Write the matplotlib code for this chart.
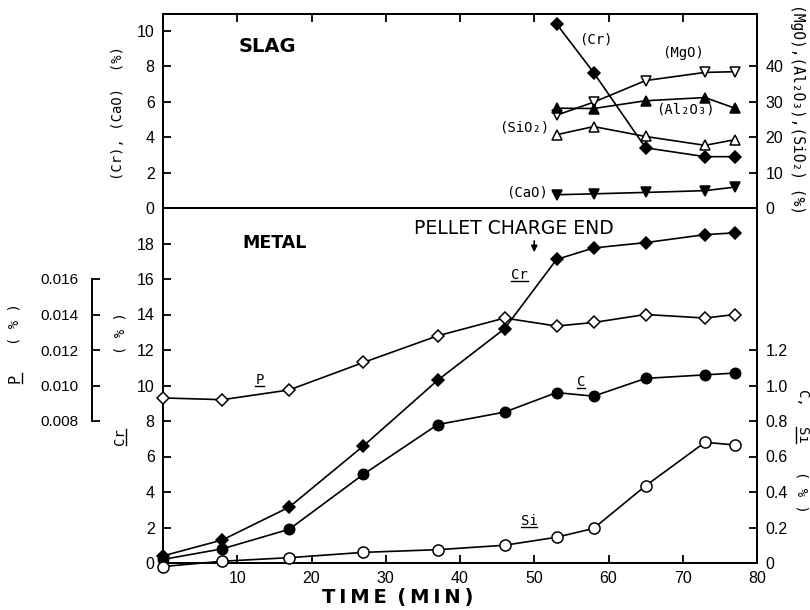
import matplotlib
matplotlib.use('Agg')
import matplotlib.pyplot as plt
from matplotlib.lines import Line2D

# metal samples, time in min
time_metal = [0, 8, 17, 27, 37, 46, 53, 58, 65, 73, 77]
metal_cr = [0.4, 1.3, 3.15, 6.6, 10.3, 13.2, 17.1, 17.75, 18.05, 18.5, 18.6]
metal_p = [0.0093, 0.0092, 0.00975, 0.0113, 0.0128, 0.0138, 0.01335, 0.01355, 0.0140, 0.0138, 0.0140]
metal_c = [0.02, 0.08, 0.19, 0.50, 0.78, 0.85, 0.96, 0.94, 1.04, 1.06, 1.07]
metal_si = [-0.02, 0.01, 0.03, 0.06, 0.075, 0.10, 0.145, 0.195, 0.435, 0.68, 0.665]

# slag samples
time_slag = [53, 58, 65, 73, 77]
slag_cr = [10.4, 7.65, 3.4, 2.9, 2.9]
slag_cao = [0.75, 0.8, 0.88, 0.98, 1.18]
slag_mgo = [26.2, 29.9, 36.0, 38.3, 38.5]
slag_al2o3 = [28.2, 28.1, 30.3, 31.2, 28.2]
slag_sio2 = [20.7, 23.0, 20.2, 17.7, 19.3]

# tick values
x_ticks = [10, 20, 30, 40, 50, 60, 70, 80]
slag_left_ticks = [0, 2, 4, 6, 8, 10]
slag_right_ticks = [0, 10, 20, 30, 40]
metal_cr_ticks = [0, 2, 4, 6, 8, 10, 12, 14, 16, 18]
metal_csi_ticks = [0, 0.2, 0.4, 0.6, 0.8, 1.0, 1.2]
metal_csi_labels = ['0', '0.2', '0.4', '0.6', '0.8', '1.0', '1.2']
p_ticks = [0.008, 0.010, 0.012, 0.014, 0.016]

W, H = 810, 610
TICK_FAMILY = 'Liberation Sans'
MONO = 'DejaVu Sans Mono'

fig = plt.figure(figsize=(W / 100, H / 100), dpi=100)


def fpos(x, y):
    """pixel position -> figure fraction"""
    return x / W, 1 - y / H


ax_slag = fig.add_axes([163 / W, 1 - 208 / H, 594 / W, 194 / H])
ax_metal = fig.add_axes([163 / W, 1 - 563 / H, 594 / W, 355 / H])
for ax in (ax_slag, ax_metal):
    ax.set_xlim(0, 80)
ax_slag.set_ylim(0, 10.96)
ax_metal.set_ylim(0, 20.0)

ax_slag_r = ax_slag.twinx()
ax_slag_r.set_ylim(0, 10.96 * 5)
ax_metal_r = ax_metal.twinx()
ax_metal_r.set_ylim(0, 2.0)
ax_p = ax_metal.twinx()
ax_p.set_ylim(0, 0.020)

line_kw = dict(color='black', lw=1.2, clip_on=False, zorder=3, mec='black', mew=1.1)

# slag
ax_slag.plot(time_slag, slag_cr, marker='D', ms=6, mfc='black', **line_kw)
ax_slag.plot(time_slag, slag_cao, marker='v', ms=7, mfc='black', **line_kw)
ax_slag_r.plot(time_slag, slag_mgo, marker='v', ms=7, mfc='white', **line_kw)
ax_slag_r.plot(time_slag, slag_al2o3, marker='^', ms=7, mfc='black', **line_kw)
ax_slag_r.plot(time_slag, slag_sio2, marker='^', ms=7, mfc='white', **line_kw)

# metal
ax_metal.plot(time_metal, metal_cr, marker='D', ms=6, mfc='black', **line_kw)
ax_p.plot(time_metal, metal_p, marker='D', ms=6, mfc='white', **line_kw)
ax_metal_r.plot(time_metal, metal_c, marker='o', ms=7.5, mfc='black', **line_kw)
ax_metal_r.plot(time_metal, metal_si, marker='o', ms=8, mfc='white', **line_kw)

# axes styling
for ax in (ax_slag, ax_metal, ax_slag_r, ax_metal_r):
    for s in ax.spines.values():
        s.set_linewidth(1.4)
    ax.tick_params(direction='in', length=6, width=1.3, labelsize=11.5, pad=6)

ax_slag.xaxis.set_ticks_position('top')
ax_slag.set_xticks(x_ticks[:-1])
ax_slag.tick_params(axis='x', labeltop=False, labelbottom=False)
ax_slag.set_yticks(slag_left_ticks)
ax_slag_r.set_yticks(slag_right_ticks)

ax_metal.set_xticks(x_ticks)
ax_metal.set_yticks(metal_cr_ticks)
ax_metal_r.set_yticks(metal_csi_ticks)
ax_metal_r.set_yticklabels(metal_csi_labels)

for ax in (ax_slag, ax_metal, ax_slag_r, ax_metal_r):
    for lab in ax.get_xticklabels() + ax.get_yticklabels():
        lab.set_fontfamily(TICK_FAMILY)

# P scale: bracket left of the main axis
for s in ('right', 'top', 'bottom'):
    ax_p.spines[s].set_visible(False)
ax_p.spines['left'].set_visible(True)
ax_p.spines['left'].set_position(('axes', (92 - 163) / 594))
ax_p.spines['left'].set_bounds(p_ticks[0], p_ticks[-1])
ax_p.spines['left'].set_linewidth(1.4)
ax_p.yaxis.set_ticks_position('left')
ax_p.yaxis.set_label_position('left')
ax_p.set_yticks(p_ticks)
ax_p.set_yticklabels(['%.3f' % v for v in p_ticks])
ax_p.tick_params(axis='y', direction='in', length=6, width=1.3, labelsize=11, pad=10)
for lab in ax_p.get_yticklabels():
    lab.set_fontfamily(TICK_FAMILY)

# panel titles and annotations
ax_slag.text(14, 9.1, 'SLAG', fontsize=14, fontweight='bold', ha='center', va='center')
ax_metal.text(15, 18.0, 'METAL', fontsize=12.5, fontweight='bold', ha='center', va='center')
ax_metal.text(47.2, 18.87, 'PELLET CHARGE END', fontsize=13.5, ha='center', va='center')
ax_metal.annotate('', xy=(50, 17.35), xytext=(50, 18.3),
                  arrowprops=dict(arrowstyle='-|>', color='black', lw=1.2, mutation_scale=9))

ax_slag.text(58.3, 9.5, '(Cr)', family=MONO, fontsize=10, ha='center', va='center')
ax_slag.text(70.1, 8.76, '(MgO)', family=MONO, fontsize=10, ha='center', va='center')
ax_slag.text(70.4, 5.54, '(Al₂O₃)', family=MONO, fontsize=10, ha='center', va='center')
ax_slag.text(52.0, 4.52, '(SiO₂)', family=MONO, fontsize=10, ha='right', va='center')
ax_slag.text(51.9, 0.85, '(CaO)', family=MONO, fontsize=10, ha='right', va='center')

under = []
under.append((ax_metal.text(48.0, 16.2, 'Cr', family=MONO, fontsize=10, ha='center', va='center'), 0))
under.append((ax_metal.text(13.0, 10.3, 'P', family=MONO, fontsize=10, ha='center', va='center'), 0))
under.append((ax_metal.text(56.3, 10.2, 'C', family=MONO, fontsize=10, ha='center', va='center'), 0))
under.append((ax_metal.text(49.3, 2.37, 'Si', family=MONO, fontsize=10, ha='center', va='center'), 0))

fig.text(*fpos(398, 597), 'T\u2009I\u2009M\u2009E\u2009 (\u2009M\u2009I\u2009N\u2009)',
         fontsize=14, fontweight='bold', ha='center', va='center')

# axis titles
fig.text(*fpos(118, 113), '(Cr), (CaO)  (%)', family=MONO, fontsize=10,
         rotation=90, ha='center', va='center')
fig.text(*fpos(797, 109), '(MgO),(Al₂O₃),(SiO₂) (%)', family=MONO, fontsize=10.5,
         rotation=270, ha='center', va='center')
under.append((fig.text(*fpos(120, 437), 'Cr', family=MONO, fontsize=10,
                       rotation=90, ha='center', va='center'), 90))
fig.text(*fpos(120, 333), '( % )', family=MONO, fontsize=10, rotation=90, ha='center', va='center')
under.append((fig.text(*fpos(15, 378), 'P', family=MONO, fontsize=11,
                       rotation=90, ha='center', va='center'), 90))
fig.text(*fpos(15, 324), '( % )', family=MONO, fontsize=10, rotation=90, ha='center', va='center')
fig.text(*fpos(802, 398), 'C,', family=MONO, fontsize=10, rotation=270, ha='center', va='center')
under.append((fig.text(*fpos(802, 435), 'Si', family=MONO, fontsize=10,
                       rotation=270, ha='center', va='center'), 270))
fig.text(*fpos(802, 492), '( % )', family=MONO, fontsize=10, rotation=270, ha='center', va='center')

# underline the element symbols
fig.canvas.draw()
inv = fig.transFigure.inverted()
for txt, rot in under:
    bb = txt.get_window_extent()
    if rot == 0:
        pts = [(bb.x0, bb.y0 + 1), (bb.x1, bb.y0 + 1)]
    elif rot == 90:
        pts = [(bb.x1 - 1, bb.y0), (bb.x1 - 1, bb.y1)]
    else:
        pts = [(bb.x0 + 1, bb.y0), (bb.x0 + 1, bb.y1)]
    (x0, y0), (x1, y1) = inv.transform(pts)
    fig.add_artist(Line2D([x0, x1], [y0, y1], color='black', lw=1.0))

fig.savefig('out.png', dpi=100)
